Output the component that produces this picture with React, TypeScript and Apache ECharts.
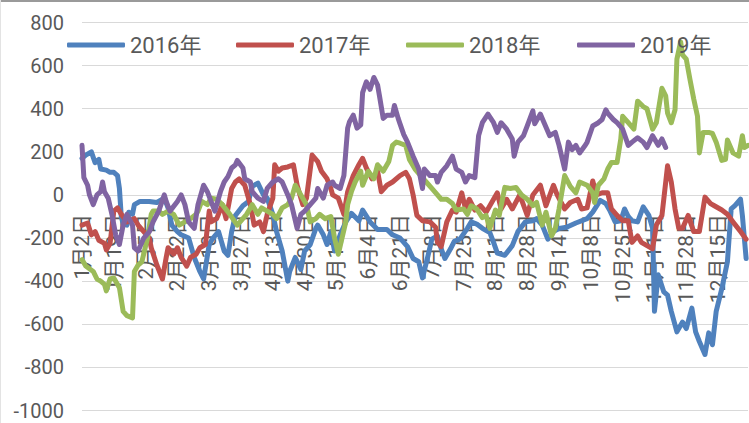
import React, { useEffect, useRef } from 'react';
import * as echarts from 'echarts';

// Categories: calendar days from 1月2日 to 12月31日, holidays skipped
const MONTH_DAYS = [31, 29, 31, 30, 31, 30, 31, 31, 30, 31, 30, 31];
const SKIPPED_DAYS = ['1-1', '5-1', '10-1', '10-2', '10-3', '10-4', '10-5', '10-6', '10-7'];
const CATEGORIES: string[] = [];
for (let m = 1; m <= 12; m++) {
  for (let d = 1; d <= MONTH_DAYS[m - 1]; d++) {
    if (SKIPPED_DAYS.includes(`${m}-${d}`)) continue;
    CATEGORIES.push(`${m}月${d}日`);
  }
}

const SERIES_NAMES = ['2016年', '2017年', '2018年', '2019年'];
const Y_TICKS = { min: -1000, max: 800, interval: 200 };

// [category index, value]
const S2016 = [[0,170],[2,185],[5,200],[7,150],[9,165],[10,120],[13,115],[15,105],[17,105],[19,90],[20,30],[21,-100],[22,-135],[24,-140],[25,-80],[27,-90],[28,-45],[31,-30],[36,-30],[40,-35],[44,-15],[46,-60],[48,-140],[51,-170],[53,-185],[57,-200],[60,-290],[63,-355],[65,-390],[68,-230],[70,-200],[73,-170],[76,-260],[78,-280],[80,-170],[82,-95],[86,-50],[89,-30],[91,40],[94,55],[97,0],[99,-15],[102,-90],[104,-170],[107,-260],[110,-400],[111,-355],[114,-290],[117,-345],[119,-260],[122,-230],[125,-155],[126,-140],[129,-185],[131,-230],[133,-170],[135,-260],[138,-185],[141,-125],[144,-85],[148,-120],[150,-70],[154,-125],[158,-160],[163,-160],[166,-185],[170,-200],[174,-240],[177,-295],[180,-310],[182,-385],[185,-280],[187,-205],[190,-190],[192,-250],[194,-295],[197,-250],[199,-215],[202,-205],[206,-155],[208,-125],[211,-135],[214,-155],[218,-175],[220,-220],[222,-270],[226,-280],[230,-235],[233,-170],[237,-125],[241,-120],[243,-110],[246,-140],[249,-205],[252,-170],[255,-155],[259,-150],[264,-130],[270,-110],[273,-80],[277,-25],[280,-40],[282,-70],[285,-125],[288,-120],[290,-65],[292,-100],[294,-120],[297,-125],[300,-55],[303,-95],[305,-155],[306,-540],[308,-370],[311,-450],[313,-465],[315,-540],[318,-635],[321,-590],[323,-620],[326,-525],[328,-635],[330,-680],[333,-740],[335,-640],[337,-695],[339,-540],[342,-435],[345,-310],[347,-65],[349,-50],[352,-20],[353,-95],[355,-295]];

const S2017 = [[0,-140],[3,-130],[5,-185],[7,-170],[9,-210],[12,-225],[13,-255],[15,-225],[17,-75],[19,-60],[21,-90],[24,-125],[28,-110],[30,-140],[33,-170],[36,-200],[37,-245],[40,-325],[43,-390],[45,-290],[46,-245],[49,-275],[51,-245],[53,-290],[56,-330],[58,-290],[61,-275],[63,-245],[66,-230],[68,-75],[69,-125],[72,-110],[75,-45],[77,-110],[80,30],[82,60],[84,75],[87,45],[90,-45],[92,-140],[95,-125],[97,-170],[99,-90],[102,-15],[103,140],[105,110],[107,125],[110,130],[113,140],[115,45],[118,-45],[120,-15],[123,185],[126,155],[128,110],[131,75],[133,30],[134,0],[137,-15],[140,-90],[142,15],[145,90],[148,140],[150,170],[152,125],[155,75],[158,110],[160,15],[163,45],[166,60],[170,90],[173,105],[175,75],[177,0],[179,-95],[182,-120],[186,-125],[189,-150],[190,-220],[192,-240],[195,-125],[198,-70],[200,-80],[203,10],[205,-65],[207,-20],[210,-70],[213,-50],[216,-80],[219,-35],[222,10],[224,-65],[227,-20],[230,-65],[234,0],[238,-95],[241,0],[245,45],[248,-50],[252,45],[254,0],[258,-65],[261,-35],[265,-20],[267,-65],[270,-60],[273,65],[275,0],[278,10],[281,10],[283,-65],[286,-95],[289,-120],[292,-120],[294,-220],[297,-190],[299,-220],[302,-235],[305,-250],[307,-140],[310,-95],[313,135],[315,60],[317,-65],[319,-155],[321,-155],[324,-95],[327,-170],[330,-170],[333,-10],[336,-40],[338,-50],[342,-70],[345,-90],[348,-125],[352,-170],[355,-205]];

const S2018 = [[0,-300],[2,-330],[6,-355],[8,-390],[10,-400],[12,-415],[13,-445],[15,-390],[17,-385],[19,-415],[20,-430],[22,-540],[24,-560],[27,-570],[28,-355],[30,-325],[32,-310],[35,-200],[37,-90],[38,-75],[41,-75],[43,-90],[46,-75],[49,-90],[52,-140],[55,-125],[58,-110],[61,-90],[62,-75],[64,-30],[67,-45],[69,-15],[72,-20],[75,-45],[79,-90],[83,-140],[86,-110],[88,-90],[91,-45],[94,-90],[96,-60],[99,-75],[102,-90],[104,-110],[107,-60],[110,-45],[112,-15],[114,45],[115,30],[118,-15],[120,-45],[122,-125],[125,-110],[127,-90],[130,-110],[133,-100],[135,-200],[137,-275],[139,-200],[141,-125],[142,-45],[144,15],[146,60],[149,110],[150,45],[153,110],[156,75],[158,140],[161,110],[164,155],[166,230],[168,245],[170,240],[173,230],[175,165],[178,120],[181,90],[184,60],[187,30],[190,0],[192,-20],[195,-20],[198,-40],[200,-70],[204,-65],[206,-90],[208,-50],[211,-65],[214,-105],[216,-95],[218,-155],[221,-70],[223,-95],[226,35],[229,30],[232,35],[235,0],[238,-20],[241,-50],[243,-35],[246,-140],[248,-80],[251,-190],[253,-155],[255,-65],[258,90],[261,40],[264,10],[266,60],[270,45],[273,10],[274,-35],[276,45],[279,75],[281,120],[283,150],[286,150],[288,260],[289,365],[292,335],[295,305],[297,435],[300,410],[302,400],[305,305],[307,335],[310,495],[312,460],[313,380],[315,335],[317,395],[318,630],[320,710],[321,650],[323,630],[325,535],[327,445],[329,365],[330,195],[332,290],[335,290],[337,285],[339,245],[342,160],[344,165],[345,255],[348,195],[351,180],[353,275],[354,220],[356,230]];

const S2019 = [[0,230],[1,80],[3,45],[4,0],[6,-45],[8,0],[10,15],[11,60],[12,15],[14,-15],[16,-90],[18,-185],[20,-230],[22,-140],[24,-90],[27,-140],[28,-245],[30,-260],[33,-200],[36,-170],[38,-125],[41,-75],[44,0],[45,-30],[47,-75],[51,-30],[53,0],[55,-45],[57,-125],[60,-155],[62,-45],[65,45],[67,15],[69,-30],[71,-75],[74,15],[76,60],[78,85],[80,125],[82,140],[83,160],[86,125],[87,75],[90,60],[91,15],[94,-15],[97,-30],[99,30],[102,60],[105,75],[107,60],[110,0],[112,-45],[115,-155],[117,-90],[119,-75],[122,-45],[125,-15],[126,30],[129,-15],[131,45],[134,60],[135,45],[138,30],[140,90],[142,310],[143,340],[145,370],[147,310],[149,325],[150,475],[152,525],[154,490],[156,545],[158,510],[159,460],[161,355],[163,370],[166,370],[167,415],[169,355],[170,330],[172,280],[174,245],[177,180],[180,120],[182,30],[183,120],[186,90],[189,90],[190,60],[192,105],[195,135],[198,180],[200,120],[203,105],[205,60],[207,90],[210,80],[212,275],[214,335],[217,375],[220,335],[222,290],[224,335],[227,305],[230,260],[231,180],[233,245],[236,275],[238,320],[241,390],[242,330],[245,375],[247,335],[250,275],[253,290],[255,230],[258,120],[260,245],[262,210],[264,230],[266,195],[269,230],[270,245],[273,320],[276,335],[278,350],[280,395],[281,380],[284,350],[286,335],[289,305],[292,230],[294,245],[297,265],[300,245],[302,220],[305,275],[308,230],[310,260],[312,220]];

const SERIES_DATA = [S2016, S2017, S2018, S2019];
const COLORS = ['#4F81BD', '#C0504D', '#9BBB59', '#8064A2'];
const LEGEND_X = [67, 236, 406, 577];
const FONT = "Roboto, 'Noto Sans CJK SC', sans-serif";

const GRID_TOP = 22.5;
const GRID_HEIGHT = 388;

export default function App() {
  const ref = useRef<HTMLDivElement>(null);
  useEffect(() => {
    if (!ref.current) return;
    const chart = echarts.init(ref.current, null, { renderer: 'svg' });
    // x axis sits on the 0 line: shift it up from the grid bottom
    const zeroFromBottom = (GRID_HEIGHT * (0 - Y_TICKS.min)) / (Y_TICKS.max - Y_TICKS.min);
    chart.setOption({
      animation: false,
      backgroundColor: '#ffffff',
      grid: { left: 82, top: GRID_TOP, width: 666, height: GRID_HEIGHT, containLabel: false, outerBoundsMode: 'none' },
      legend: SERIES_NAMES.map((name, i) => ({
        data: [name],
        left: LEGEND_X[i],
        top: 34,
        padding: 0,
        itemWidth: 58,
        itemHeight: 5,
        icon: 'roundRect',
        textStyle: { fontSize: 22, color: '#595959', fontFamily: FONT },
      })),
      xAxis: {
        type: 'category',
        data: CATEGORIES,
        boundaryGap: false,
        position: 'bottom',
        offset: -zeroFromBottom,
        z: 0,
        axisLine: { show: true, onZero: false, lineStyle: { color: '#d9d9d9', width: 1 } },
        axisTick: { show: false },
        axisLabel: {
          interval: 16,
          rotate: 90,
          margin: 19,
          fontSize: 21,
          color: '#595959',
          fontFamily: FONT,
          hideOverlap: false,
        },
        splitLine: { show: false },
      },
      yAxis: {
        type: 'value',
        min: Y_TICKS.min,
        max: Y_TICKS.max,
        interval: Y_TICKS.interval,
        axisLine: { show: false },
        axisTick: { show: false },
        axisLabel: {
          fontSize: 20,
          lineHeight: 18,
          color: '#595959',
          fontFamily: FONT,
          margin: 18,
          formatter: (v: number) => String(v),
        },
        splitLine: { lineStyle: { color: '#d9d9d9', width: 1 } },
      },
      series: SERIES_NAMES.map((name, i) => ({
        name,
        type: 'line',
        z: 3,
        data: SERIES_DATA[i],
        showSymbol: false,
        symbol: 'none',
        color: COLORS[i],
        lineStyle: { width: 5, color: COLORS[i], cap: 'round', join: 'round' },
        itemStyle: { color: COLORS[i] },
      })),
      graphic: [
        { type: 'line', shape: { x1: 0, y1: 1, x2: 749, y2: 1 }, style: { stroke: '#9a9a9a', lineWidth: 2 } },
        { type: 'line', shape: { x1: 0.5, y1: 0, x2: 0.5, y2: 423 }, style: { stroke: '#e3e3e3', lineWidth: 1 } },
      ],
    });
    return () => chart.dispose();
  }, []);
  return (
    <div
      ref={ref}
      style={{ position: 'fixed', left: 0, top: 0, width: 749, height: 423, background: '#fff' }}
    />
  );
}
